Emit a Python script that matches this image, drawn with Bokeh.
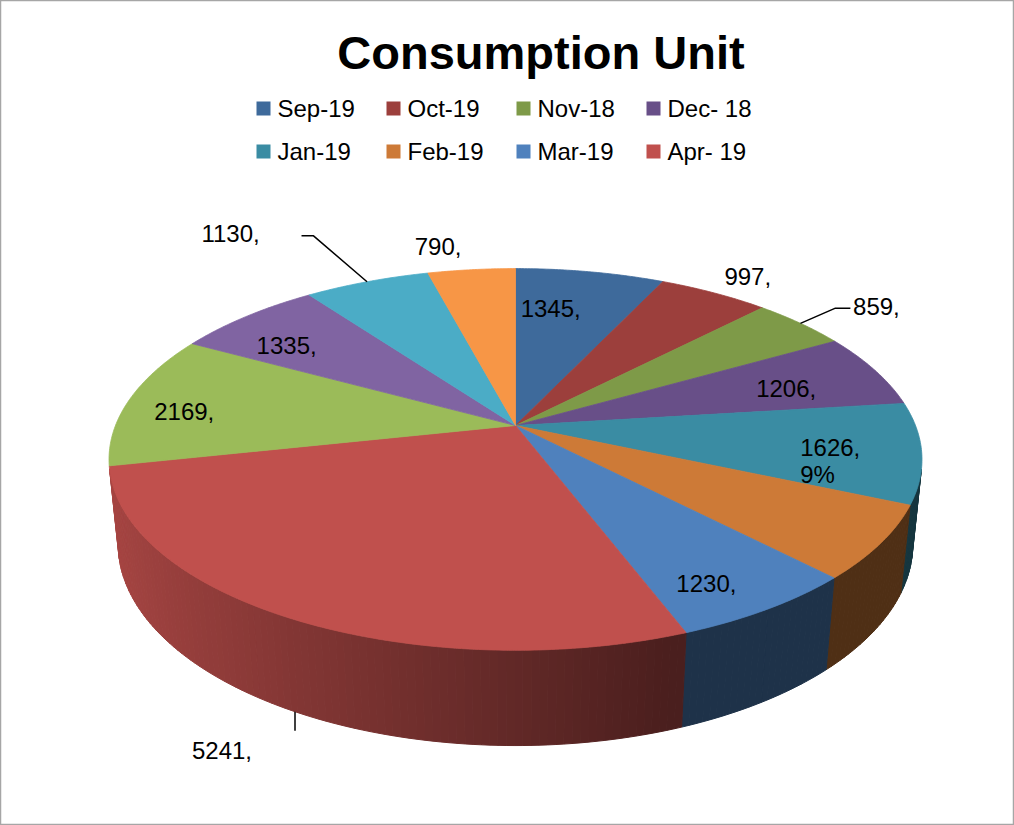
import numpy as np
from bokeh.plotting import figure
from bokeh.models import Range1d
from bokeh.core.properties import value
from bokeh.embed import file_html
from bokeh.resources import INLINE

# ---------------- data ----------------
title_text = "Consumption Unit"
legend_labels = ["Sep-19", "Oct-19", "Nov-18", "Dec- 18",
                 "Jan-19", "Feb-19", "Mar-19", "Apr- 19"]
values = [1345, 997, 859, 1206, 1626, 1190, 1230, 5241, 2169, 1335, 1130, 790]
colors = ["#3e6a9b", "#9c3f3c", "#7e9a48", "#684f88", "#3a8ca3", "#cd7a37",
          "#4f81bd", "#c0504d", "#9bbb59", "#8064a2", "#4bacc6", "#f79646"]
show_label = [True, True, True, True, True, False, True, True, True, True, True, True]
show_pct = [False, False, False, False, True, False, False, False, False, False, False, False]

# ---------------- style / layout ----------------
FONT = value("Liberation Sans")
CX, CY = 515.0, 425.0          # pie apex on screen
F, D = 1996.0, 4.99            # focal scale, camera distance (radius = 1)
SA, CA = 0.462, 0.887          # sin / cos of elevation
H = 0.241                      # thickness
TXT_SHIFT = 0.375              # baseline correction (em)
# label placement: radius fraction and pixel nudge
label_r = [0.75, 1.15, 1.35, 0.70, 0.75, None, 0.80, 1.0, 0.85, 0.80, 1.40, 1.12]
label_nudge = [(-23, 3), (8, 1), (-11, 15), (15, 3), (-18, 2), None, (-4, 17),
               (-73, 39), (-2, 9), (-9, 10), (-88, -1), (-29, -7)]


def proj(theta_deg, r=1.0, z=0.0):
    t = np.radians(theta_deg)
    X = r * np.sin(t)
    Yd = -r * np.cos(t)
    depth = D - (Yd * CA + z * SA)
    xs = CX + X * F / depth
    yu = (-Yd * SA + z * CA) * F / depth
    return xs, CY - yu


def shade(hexcol, f):
    h = hexcol.lstrip("#")
    r, g, b = (int(h[i:i + 2], 16) for i in (0, 2, 4))
    return "#%02x%02x%02x" % (int(r * f), int(g * f), int(b * f))


def put_text(x, y_center, s, size=24, align="center", bold=False):
    # y_center is the vertical centre of the digit/cap height
    base = y_center + 0.358 * size - TXT_SHIFT * size
    p.text([x], [base], text=[s], text_font=FONT, text_font_size=f"{size}px",
           text_font_style="bold" if bold else "normal",
           text_align=align, text_baseline="alphabetic", text_color="black")


total = float(sum(values))
angles = np.cumsum([0.0] + [v / total * 360.0 for v in values])

p = figure(width=1014, height=825, output_backend="svg", toolbar_location=None,
           x_range=Range1d(0, 1014), y_range=Range1d(825, 0),
           min_border=0)
p.axis.visible = False
p.grid.visible = False
p.outline_line_color = "#a6a6a6"
p.outline_line_width = 1.5
p.background_fill_color = "white"

# ---------------- side wall ----------------
vis_lo = np.degrees(np.arccos(-1.0 / (D * CA)))
vis_hi = 360.0 - vis_lo
sx, sy, sc = [], [], []
for i, v in enumerate(values):
    a0, a1 = max(angles[i], vis_lo), min(angles[i + 1], vis_hi)
    if a1 <= a0:
        continue
    n = max(1, int(np.ceil((a1 - a0) / 1.0)))
    edges = np.linspace(a0, a1, n + 1)
    for ta, tb in zip(edges[:-1], edges[1:]):
        xa, ya = proj(ta)
        xb, yb = proj(tb)
        xc, yc = proj(tb, 1.0, -H)
        xd, yd = proj(ta, 1.0, -H)
        sx.append([xa, xb, xc, xd])
        sy.append([ya, yb, yc, yd])
        tm = np.radians(0.5 * (ta + tb))
        f = max(0.39, 0.51 - 0.37 * np.sin(tm))
        sc.append(shade(colors[i], f))
p.patches(sx, sy, fill_color=sc, line_color=sc, line_width=1)

# ---------------- top faces ----------------
tx, ty = [], []
for i in range(len(values)):
    th = np.linspace(angles[i], angles[i + 1], max(3, int((angles[i + 1] - angles[i]) * 2)))
    px, py = proj(th)
    tx.append([CX] + list(px))
    ty.append([CY] + list(py))
p.patches(tx, ty, fill_color=colors, line_color=colors, line_width=0.8)

# ---------------- labels ----------------
for i, v in enumerate(values):
    if not show_label[i]:
        continue
    tm = 0.5 * (angles[i] + angles[i + 1])
    dx, dy = label_nudge[i]
    if i == 7:  # label below the wall, vertical leader
        ax, ay = proj(tm, 1.0, -H)
        p.line([ax, ax], [ay, ay + 19], line_color="black", line_width=1.5)
    else:
        ax, ay = proj(tm, label_r[i])
    lx, ly = ax + dx, ay + dy
    if show_pct[i]:
        pct = int(round(100 * v / total))
        put_text(lx, ly, f"{v},", align="left")
        put_text(lx, ly + 27, f"{pct}%", align="left")
    else:
        put_text(lx, ly, f"{v},")
    if i == 2:
        ex, ey = proj(tm, 1.0)
        p.line([ex, lx - 41, lx - 26], [ey, ly + 1, ly + 1], line_color="black", line_width=1.5)
    if i == 10:
        ex, ey = proj(tm, 1.0)
        p.line([ex, lx + 83, lx + 71], [ey, ly + 2, ly + 2], line_color="black", line_width=1.5)

# ---------------- legend ----------------
for k, lab in enumerate(legend_labels):
    row, col = divmod(k, 4)
    qx = 263 + 130 * col
    qy = 108 + 43 * row
    p.scatter([qx], [qy], marker="square", size=14, fill_color=colors[k], line_color=None)
    put_text(qx + 14, qy + 0.5, lab, align="left")

# ---------------- title ----------------
put_text(540.5, 53, title_text, size=47, bold=True)

open("out.html", "w").write(file_html(p, INLINE))
